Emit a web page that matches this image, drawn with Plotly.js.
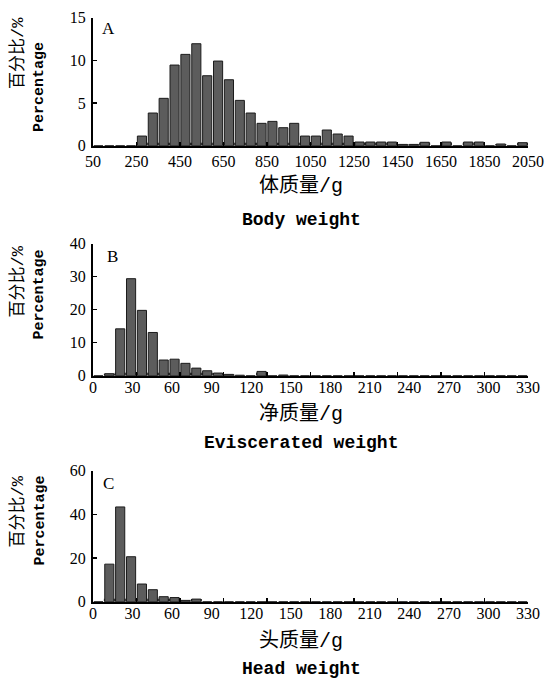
<!DOCTYPE html>
<html>
<head>
<meta charset="utf-8">
<script src="https://cdn.plot.ly/plotly-3.0.1.min.js"></script>
<style>html,body{margin:0;padding:0;background:#fff;}#chart{width:558px;height:682px;}</style>
</head>
<body>
<div id="chart"></div>
<script>
// ---- data (40 bins per panel) ----
const binIndex = Array.from({length: 40}, (_, i) => i);

// Panel A: body weight, 50 g bins from 50 to 2050
const pctA = [0, 0, 0, 0, 1.13, 3.83, 5.55, 9.45, 10.7, 11.95,
              8.2, 9.92, 7.73, 5.31, 3.83, 2.62, 2.85, 2.11, 2.62, 1.13,
              1.13, 1.84, 1.37, 1.13, 0.43, 0.43, 0.43, 0.43, 0.15, 0.15,
              0.4, 0, 0.43, 0, 0.43, 0.43, 0, 0.2, 0, 0.35];
const tickLabelsA = ['50','250','450','650','850','1050','1250','1450','1650','1850','2050'];

// Panel B: eviscerated weight
const pctB = [0, 0.6, 14.2, 29.4, 19.8, 13.1, 4.75, 5.0, 3.75, 2.3,
              1.5, 0.8, 0.4, 0.15, 0, 1.3, 0, 0.2, 0, 0,
              0, 0, 0, 0, 0, 0, 0, 0, 0, 0,
              0, 0, 0, 0, 0, 0, 0, 0, 0, 0];
// Panel C: head weight
const pctC = [0, 17.2, 43.4, 20.6, 8.1, 5.5, 2.3, 1.9, 0.6, 1.2,
              0, 0, 0, 0, 0, 0, 0, 0, 0, 0,
              0, 0, 0, 0, 0, 0, 0, 0, 0, 0,
              0, 0, 0, 0, 0, 0, 0, 0, 0, 0];
const tickLabelsBC = ['0','30','60','90','120','150','180','210','240','270','300','330'];

const titlesCN = ['体质量/g', '净质量/g', '头质量/g'];
const titlesEN = ['Body weight', 'Eviscerated weight', 'Head weight'];
const yTitleCN = '百分比/%';
const yTitleEN = 'Percentage';
const panelLetters = ['A', 'B', 'C'];

// ---- styling ----
const W = 558, H = 682;
const px = v => v / W;
const py = v => (H - v) / H;
const xDom = [px(93), px(528)];
const barFill = '#5c5c5c', barEdge = '#1c1c1c';
const tickFont = {family: 'Liberation Serif, serif', size: 16, color: '#000'};
const boundaries = Array.from({length: 11}, (_, k) => -0.5 + 4 * k);
const numTicksBC = tickLabelsBC.map(Number);

function barTraces(vals, xa, ya, cap) {
  return [
    {type: 'bar', x: binIndex, y: vals.map(v => Math.min(v, cap)), width: 1.0,
     marker: {color: '#111', line: {width: 0}}, xaxis: xa, yaxis: ya, hoverinfo: 'skip'},
    {type: 'bar', x: binIndex, y: vals, width: 0.84,
     marker: {color: barFill, line: {color: barEdge, width: 1}}, xaxis: xa, yaxis: ya}
  ];
}
// invisible carrier so the value-scale label axes are drawn
function labelCarrier(xa, ya) {
  return {type: 'scatter', mode: 'markers', x: numTicksBC, y: numTicksBC.map(() => 0),
          marker: {opacity: 0, size: 1}, xaxis: xa, yaxis: ya, hoverinfo: 'skip'};
}

const data = [
  ...barTraces(pctA, 'x', 'y', 0.35),
  ...barTraces(pctB, 'x2', 'y2', 0.9),
  labelCarrier('x3', 'y2'),
  ...barTraces(pctC, 'x4', 'y3', 1.35),
  labelCarrier('x5', 'y3')
];

const baseX = {
  domain: xDom, range: [-0.5, 39.5], showgrid: false, zeroline: false,
  showline: true, linecolor: '#000', linewidth: 2,
  ticks: 'inside', ticklen: 4, tickwidth: 1.5, tickcolor: '#000',
  tickmode: 'array', tickvals: boundaries, tickfont: tickFont, fixedrange: true
};
const baseY = {
  showgrid: false, zeroline: false, showline: true, linecolor: '#000', linewidth: 2,
  ticks: 'inside', ticklen: 4, tickwidth: 1.5, tickcolor: '#000',
  tickfont: tickFont, ticklabelstandoff: 2
};
const labelX = {
  domain: xDom, range: [0, 330], showgrid: false, zeroline: false, showline: false,
  ticks: '', tickmode: 'array', tickvals: numTicksBC, ticktext: tickLabelsBC,
  tickfont: tickFont, side: 'bottom'
};

const layout = {
  width: W, height: H, margin: {l: 0, r: 0, t: 0, b: 0},
  paper_bgcolor: '#fff', plot_bgcolor: '#fff', showlegend: false, barmode: 'overlay',
  xaxis: Object.assign({}, baseX, {anchor: 'y', ticktext: tickLabelsA}),
  yaxis: Object.assign({}, baseY, {anchor: 'x', domain: [py(145.7), py(17.7)], range: [0, 15], dtick: 5}),
  xaxis2: Object.assign({}, baseX, {anchor: 'y2', showticklabels: false}),
  xaxis3: Object.assign({}, labelX, {anchor: 'y2', overlaying: 'x2'}),
  yaxis2: Object.assign({}, baseY, {anchor: 'x2', domain: [py(375.7), py(243.7)], range: [0, 40], dtick: 10}),
  xaxis4: Object.assign({}, baseX, {anchor: 'y3', showticklabels: false}),
  xaxis5: Object.assign({}, labelX, {anchor: 'y3', overlaying: 'x4'}),
  yaxis3: Object.assign({}, baseY, {anchor: 'x4', domain: [py(601.7), py(470.7)], range: [0, 60], dtick: 20}),
  annotations: []
};

const cnFont = s => ({family: 'Liberation Mono, Noto Sans CJK SC, monospace', size: s, color: '#000'});
const enFont = s => ({family: 'Liberation Mono, monospace', size: s, color: '#000', weight: 'bold'});

const letterPos = [[108, 29], [112, 256.5], [108.5, 483.5]];
const xTitlePos = [[186, 219.5], [414, 443], [641, 669]];
const yTitlePos = [[53.5, 87.5], [282, 295], [512, 521]];

for (let i = 0; i < 3; i++) {
  layout.annotations.push({xref: 'paper', yref: 'paper', x: px(letterPos[i][0]), y: py(letterPos[i][1]),
    text: panelLetters[i], showarrow: false, xanchor: 'center', yanchor: 'middle',
    font: {family: 'Liberation Serif, serif', size: 17, color: '#000'}});
  layout.annotations.push({xref: 'paper', yref: 'paper', x: px(301), y: py(xTitlePos[i][0]),
    text: titlesCN[i], showarrow: false, xanchor: 'center', yanchor: 'middle', font: cnFont(20)});
  layout.annotations.push({xref: 'paper', yref: 'paper', x: px(301), y: py(xTitlePos[i][1]),
    text: titlesEN[i], showarrow: false, xanchor: 'center', yanchor: 'middle', font: enFont(18)});
  layout.annotations.push({xref: 'paper', yref: 'paper', x: px(17.5), y: py(yTitlePos[i][0]),
    text: yTitleCN, showarrow: false, textangle: -90, xanchor: 'center', yanchor: 'middle', font: cnFont(17)});
  layout.annotations.push({xref: 'paper', yref: 'paper', x: px(39.5), y: py(yTitlePos[i][1]),
    text: yTitleEN, showarrow: false, textangle: -90, xanchor: 'center', yanchor: 'middle', font: enFont(15)});
}

Plotly.newPlot('chart', data, layout, {displayModeBar: false, staticPlot: true});
</script>
</body>
</html>
